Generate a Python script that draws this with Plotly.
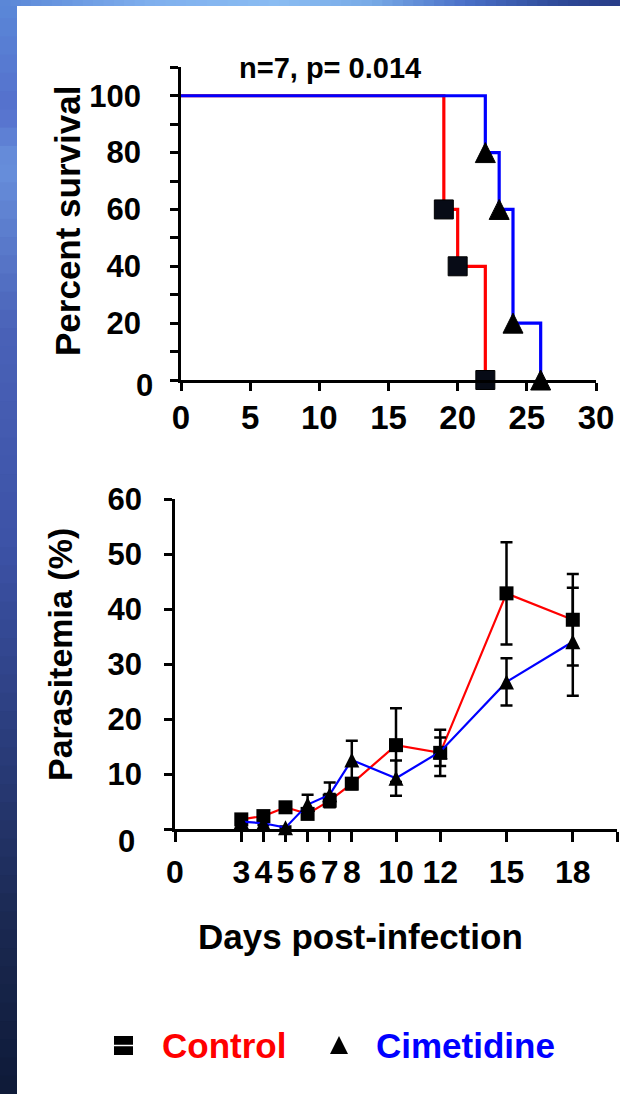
import plotly.graph_objects as go

# ---------------- data ----------------
# Kaplan-Meier survival (percent) - event days and survival after each event
surv_start_day = 0
surv_start_pct = 100
surv_control_days = [19, 20, 22]
surv_control_pct = [60, 40, 0]
surv_cim_days = [22, 23, 24, 26]
surv_cim_pct = [80, 60, 20, 0]

# Parasitemia (%) mean and error
para_days = [3, 4, 5, 6, 7, 8, 10, 12, 15, 18]
para_control = [1.8, 2.4, 4.0, 2.8, 5.2, 8.3, 15.3, 13.9, 42.9, 38.1]
para_control_err = [0.3, 0.4, 0.4, 0.8, 1.2, 1.0, 6.7, 4.2, 9.3, 8.3]
para_cim = [1.4, 1.1, 0.3, 4.5, 6.3, 12.6, 9.3, 14.1, 26.8, 34.1]
para_cim_err = [0.3, 0.3, 0.2, 1.8, 2.2, 3.5, 3.2, 2.6, 4.3, 9.8]

top_xticks = [0, 5, 10, 15, 20, 25, 30]
top_yticks = [0, 20, 40, 60, 80, 100]
top_yminor = [10, 30, 50, 70, 90, 110]
bottom_xticks = [0, 3, 4, 5, 6, 7, 8, 10, 12, 15, 18, 20]
bottom_xlabels = ["0", "3", "4", "5", "6", "7", "8", "10", "12", "15", "18", ""]
bottom_yticks = [0, 10, 20, 30, 40, 50, 60]

series_names = ["Control", "Cimetidine"]
series_colors = ["#ff0000", "#0000ff"]

# ---------------- helpers ----------------
W, H = 620, 1094
FONT = "Liberation Sans, Arial, sans-serif"


def px(x):
    return x / W


def py(y):
    return 1 - y / H


def lerp_color(stops, t):
    for (t0, c0), (t1, c1) in zip(stops[:-1], stops[1:]):
        if t0 <= t <= t1:
            f = (t - t0) / (t1 - t0) if t1 > t0 else 0
            a = [int(c0[i:i + 2], 16) for i in (1, 3, 5)]
            b = [int(c1[i:i + 2], 16) for i in (1, 3, 5)]
            r = [round(a[k] + (b[k] - a[k]) * f) for k in range(3)]
            return "rgb(%d,%d,%d)" % tuple(r)
    return stops[-1][1]


def tri(size):
    # upward triangle centred on the data point
    return dict(symbol="arrow-down", size=size, angle=180, standoff=size / 2, color="black")


def tfont(size):
    return dict(family=FONT, size=size, color="black", weight="bold")


fig = go.Figure()

# ---------------- top: survival ----------------
fig.add_trace(go.Scatter(
    x=[surv_start_day] + surv_control_days, y=[surv_start_pct] + surv_control_pct,
    mode="lines", line=dict(color=series_colors[0], width=3.2, shape="hv"),
    xaxis="x", yaxis="y", showlegend=False, hoverinfo="skip"))
fig.add_trace(go.Scatter(
    x=[surv_start_day] + surv_cim_days, y=[surv_start_pct] + surv_cim_pct,
    mode="lines", line=dict(color=series_colors[1], width=3.2, shape="hv"),
    xaxis="x", yaxis="y", showlegend=False, hoverinfo="skip"))
fig.add_trace(go.Scatter(
    x=surv_control_days, y=surv_control_pct, mode="markers",
    marker=dict(symbol="square", size=19, color="#070b16", line=dict(color="black", width=1)),
    xaxis="x", yaxis="y", showlegend=False, cliponaxis=False))
fig.add_trace(go.Scatter(
    x=surv_cim_days, y=surv_cim_pct, mode="markers",
    marker=dict(tri(20), line=dict(color="black", width=1)),
    xaxis="x", yaxis="y", showlegend=False, cliponaxis=False))

# ---------------- bottom: parasitemia ----------------
fig.add_trace(go.Scatter(
    x=para_days, y=para_control, mode="lines+markers",
    line=dict(color=series_colors[0], width=2.2),
    marker=dict(symbol="square", size=14, color="black"),
    error_y=dict(type="data", array=para_control_err, color="black", thickness=2.5, width=6),
    xaxis="x2", yaxis="y2", showlegend=False, cliponaxis=False))
fig.add_trace(go.Scatter(
    x=para_days, y=para_cim, mode="lines+markers",
    line=dict(color=series_colors[1], width=2.2, backoff=0),
    marker=tri(15),
    error_y=dict(type="data", array=para_cim_err, color="black", thickness=2.5, width=6),
    xaxis="x2", yaxis="y2", showlegend=False, cliponaxis=False))

# ---------------- legend keys (hidden pixel axis) ----------------
fig.add_trace(go.Scatter(
    x=[123.5], y=[1045.5], mode="markers",
    marker=dict(symbol="square", size=19, color="black"),
    xaxis="x3", yaxis="y3", showlegend=False, hoverinfo="skip", cliponaxis=False))
fig.add_trace(go.Scatter(
    x=[123.5], y=[1045.5], mode="markers",
    marker=dict(symbol="line-ew", size=19, line=dict(color="white", width=1.5)),
    xaxis="x3", yaxis="y3", showlegend=False, hoverinfo="skip", cliponaxis=False))
fig.add_trace(go.Scatter(
    x=[339], y=[1045], mode="markers",
    marker=tri(18),
    xaxis="x3", yaxis="y3", showlegend=False, hoverinfo="skip", cliponaxis=False))

axis_common = dict(showgrid=False, zeroline=False, showline=True, linecolor="black",
                   linewidth=2.5, ticks="outside", tickcolor="black", tickwidth=2.5,
                   fixedrange=True, automargin=False)

# ---------------- annotations ----------------
ann = []


def add_text(text, x, y, size, color="black", angle=0):
    ann.append(dict(text=text, x=px(x), y=py(y), xref="paper", yref="paper",
                    showarrow=False, textangle=angle, xanchor="center", yanchor="middle",
                    font=dict(family=FONT, size=size, color=color, weight="bold")))


add_text("n=7, p= 0.014", 330, 68, 29)
add_text("Percent survival", 68, 221, 35, angle=-90)
add_text("0", 144, 385, 31)
add_text("Parasitemia (%)", 60, 655, 34, angle=-90)
add_text("0", 126, 841, 31)
add_text("Days post-infection", 360, 936, 35)
add_text(series_names[0], 223.5, 1045, 35, color=series_colors[0])
add_text(series_names[1], 465.7, 1045, 35, color=series_colors[1])

# ---------------- decorative gradient border ----------------
shapes = []
left_stops = [(0.0, "#5a88d8"), (0.1, "#5570cc"), (0.15, "#6890dc"), (0.3, "#4a62b8"),
              (0.5, "#3c52a6"), (0.7, "#283a76"), (0.85, "#1a2850"), (1.0, "#0e1a38")]
top_stops = [(0.0, "#5a86d6"), (0.25, "#80b0ee"), (0.45, "#8abcf2"), (0.6, "#78aae6"),
             (0.75, "#4a70c8"), (0.9, "#2e4a98"), (1.0, "#283c88")]
n = 60
ov = 0.6 / n
for i in range(n):
    t = (i + 0.5) / n
    shapes.append(dict(type="rect", xref="paper", yref="paper", layer="below",
                       x0=0, x1=px(17), y0=max(0, 1 - (i + 1) / n - ov), y1=1 - i / n,
                       fillcolor=lerp_color(left_stops, t), line=dict(width=0)))
for i in range(n):
    t = (i + 0.5) / n
    shapes.append(dict(type="rect", xref="paper", yref="paper", layer="below",
                       x0=i / n, x1=min(1, (i + 1) / n + ov), y0=py(6), y1=1,
                       fillcolor=lerp_color(top_stops, t), line=dict(width=0)))

fig.update_layout(
    width=W, height=H, autosize=False,
    margin=dict(l=0, r=0, t=0, b=0, pad=0, autoexpand=False),
    paper_bgcolor="white", plot_bgcolor="rgba(0,0,0,0)",
    showlegend=False,
    xaxis=dict(domain=[px(181), px(596)], range=[0, 30], anchor="y",
               tickmode="array", tickvals=top_xticks, ticklen=8, tickfont=tfont(33),
               ticklabelstandoff=-1, **axis_common),
    yaxis=dict(domain=[py(380), py(67.3)], range=[0, 110], anchor="x",
               tickmode="array", tickvals=top_yticks, tickfont=tfont(31),
               ticktext=["" if v == 0 else str(v) for v in top_yticks], ticklen=8,
               ticklabelstandoff=23,
               minor=dict(tickmode="array", tickvals=top_yminor, ticklen=8, tickwidth=2.5,
                          tickcolor="black", ticks="outside"),
               **axis_common),
    xaxis2=dict(domain=[px(175), px(617)], range=[0, 20], anchor="y2",
                tickmode="array", tickvals=bottom_xticks, ticktext=bottom_xlabels, ticklen=10,
                tickfont=tfont(32), ticklabelstandoff=3, **axis_common),
    yaxis2=dict(domain=[py(829.3), py(499.3)], range=[0, 60], anchor="x2",
                tickmode="array", tickvals=bottom_yticks, tickfont=tfont(31),
                ticktext=["" if v == 0 else str(v) for v in bottom_yticks], ticklen=8,
                ticklabelstandoff=16, **axis_common),
    xaxis3=dict(domain=[0, 1], range=[0, W], anchor="y3", visible=False, fixedrange=True,
                automargin=False),
    yaxis3=dict(domain=[0, 1], range=[H, 0], anchor="x3", visible=False, fixedrange=True,
                automargin=False),
    annotations=ann,
    shapes=shapes,
)

fig.write_html("out.html")
